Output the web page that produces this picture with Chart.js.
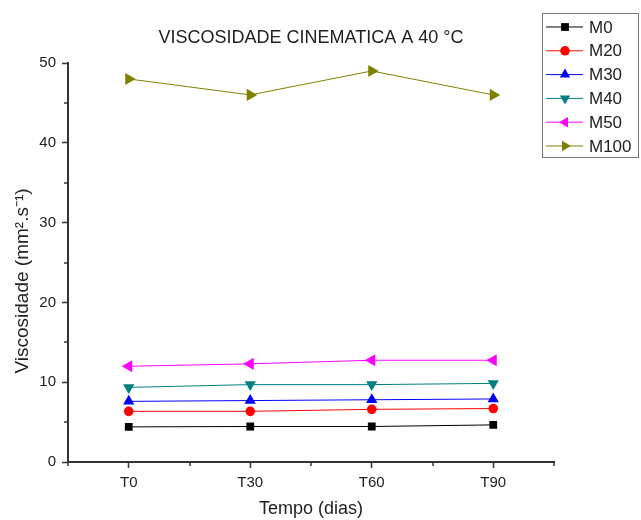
<!DOCTYPE html>
<html>
<head>
<meta charset="utf-8">
<script src="https://cdn.jsdelivr.net/npm/chart.js@4/dist/chart.umd.min.js"></script>
<style>
  body { margin: 0; background: #fff; }
  #wrap { width: 641px; height: 520px; }
</style>
</head>
<body>
<div id="wrap"><canvas id="grafo" width="641" height="520"></canvas></div>
<script>
// dados
const categorias = ['T0', 'T30', 'T60', 'T90'];
const m0 = [4.4, 4.45, 4.45, 4.65];
const m20 = [6.35, 6.35, 6.6, 6.7];
const m30 = [7.6, 7.7, 7.8, 7.9];
const m40 = [9.35, 9.7, 9.7, 9.85];
const m50 = [12.0, 12.3, 12.75, 12.75];
const m100 = [48.0, 46.0, 49.0, 46.0];
const yTicks = [0, 10, 20, 30, 40, 50];

const fonte = "'Liberation Sans', Arial, sans-serif";

function serie(nome, dados, cor, estilo, rot, raio) {
  return {
    label: nome,
    data: dados,
    borderColor: cor,
    backgroundColor: cor,
    borderWidth: 1,
    pointStyle: estilo,
    pointRotation: rot,
    pointRadius: raio,
    pointBorderWidth: 0,
    tension: 0
  };
}

// legenda, titulo e ticks menores desenhados a mao
const extras = {
  id: 'extras',
  afterDraw(chart) {
    const ctx = chart.ctx;
    const x = chart.scales.x;
    const y = chart.scales.y;
    ctx.save();

    // ticks menores
    ctx.strokeStyle = '#333';
    ctx.lineWidth = 1.5;
    for (let i = 0; i <= categorias.length; i++) {
      const px = Math.round(x.getPixelForValue(i - 0.5));
      ctx.beginPath();
      ctx.moveTo(px, y.bottom);
      ctx.lineTo(px, y.bottom + 4);
      ctx.stroke();
    }
    for (let i = 0; i < yTicks.length - 1; i++) {
      const py = Math.round(y.getPixelForValue(yTicks[i] + 5));
      ctx.beginPath();
      ctx.moveTo(x.left, py);
      ctx.lineTo(x.left - 4, py);
      ctx.stroke();
    }

    // titulo
    ctx.fillStyle = '#222';
    ctx.font = '18px ' + fonte;
    ctx.textAlign = 'center';
    ctx.textBaseline = 'middle';
    ctx.fillText('VISCOSIDADE CINEMATICA A 40 °C', (x.left + x.right) / 2, 38);

    // titulo do eixo y
    ctx.save();
    ctx.translate(23, 281);
    ctx.rotate(-Math.PI / 2);
    ctx.font = '19px ' + fonte;
    ctx.fillText('Viscosidade (mm².s⁻¹)', 0, 0);
    ctx.restore();

    // legenda
    ctx.fillStyle = '#fff';
    ctx.fillRect(542.5, 13.5, 96, 144);
    ctx.strokeStyle = '#777';
    ctx.lineWidth = 1;
    ctx.strokeRect(542.5, 13.5, 96, 144);
    ctx.font = '17px ' + fonte;
    ctx.textAlign = 'left';
    chart.data.datasets.forEach((ds, i) => {
      const ly = 27 + i * 23.8;
      ctx.strokeStyle = ds.borderColor;
      ctx.lineWidth = 1;
      ctx.beginPath();
      ctx.moveTo(546, ly);
      ctx.lineTo(583, ly);
      ctx.stroke();
      ctx.fillStyle = ds.backgroundColor;
      Chart.helpers.drawPoint(ctx, {
        pointStyle: ds.pointStyle,
        rotation: ds.pointRotation,
        radius: Math.min(ds.pointRadius, 6),
        borderWidth: 0
      }, 565, ly);
      ctx.fillStyle = '#222';
      ctx.fillText(ds.label, 589, ly + 1);
    });
    ctx.restore();
  }
};

const grafica = new Chart(document.getElementById('grafo'), {
  type: 'line',
  data: {
    labels: categorias,
    datasets: [
      serie('M0', m0, '#000000', 'rect', 0, 5.5),
      serie('M20', m20, '#ff0000', 'circle', 0, 4.8),
      serie('M30', m30, '#0000ff', 'triangle', 0, 6.5),
      serie('M40', m40, '#008080', 'triangle', 180, 6.5),
      serie('M50', m50, '#ff00ff', 'triangle', -90, 7),
      serie('M100', m100, '#808000', 'triangle', 90, 7)
    ]
  },
  options: {
    responsive: false,
    animation: false,
    layout: { padding: { top: 63, right: 87, left: 0, bottom: 0 } },
    plugins: {
      legend: { display: false },
      title: { display: false },
      tooltip: { enabled: false }
    },
    scales: {
      x: {
        offset: true,
        grid: {
          offset: false,
          drawOnChartArea: false,
          drawTicks: true,
          tickLength: 6,
          tickWidth: 1.5,
          tickColor: '#333'
        },
        border: { display: true, width: 2, color: '#333' },
        ticks: { color: '#222', padding: 6, font: { size: 15, family: fonte } },
        title: {
          display: true,
          text: 'Tempo (dias)',
          color: '#222',
          font: { size: 18, family: fonte },
          padding: { top: 0, bottom: 0 }
        },
        afterFit(scale) { scale.height = 58; }
      },
      y: {
        min: 0,
        max: 50,
        ticks: {
          stepSize: 10,
          color: '#222',
          padding: 6,
          font: { size: 15, family: fonte }
        },
        grid: {
          drawOnChartArea: false,
          drawTicks: true,
          tickLength: 6,
          tickWidth: 1.5,
          tickColor: '#333'
        },
        border: { display: true, width: 2, color: '#333' },
        afterFit(scale) { scale.width = 68; }
      }
    }
  },
  plugins: [extras]
});
</script>
</body>
</html>
